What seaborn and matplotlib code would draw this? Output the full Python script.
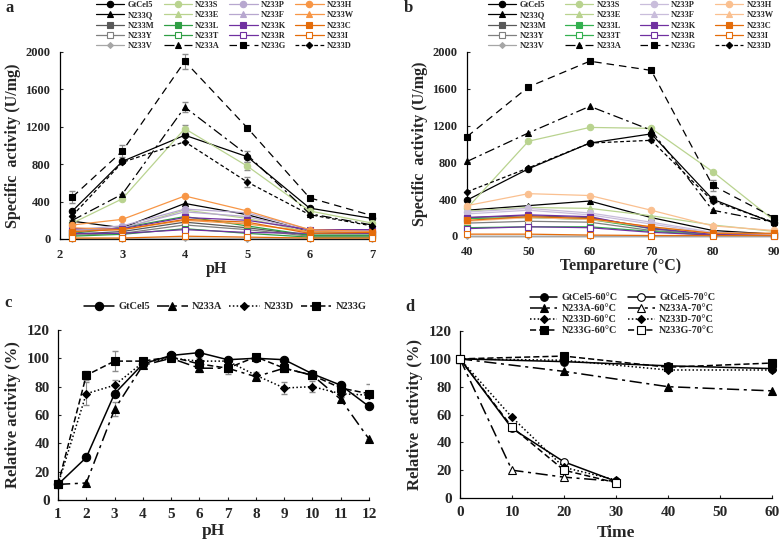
import matplotlib
matplotlib.use("Agg")
import matplotlib.pyplot as plt
import pandas as pd
import seaborn as sns

sns.set_style("ticks")
plt.rcParams["font.family"] = ["Liberation Serif", "DejaVu Serif"]
plt.rcParams["font.weight"] = "bold"
plt.rcParams["axes.labelweight"] = "bold"

# ---- data ----
mutants = ["GtCel5", "N233Q", "N233M", "N233Y", "N233V",
           "N233S", "N233E", "N233L", "N233T", "N233A",
           "N233P", "N233F", "N233K", "N233R", "N233G",
           "N233H", "N233W", "N233C", "N233I", "N233D"]

ph_a = [2.2, 3, 4, 5, 6, 7]
act_ph = {
    "GtCel5": [300, 830, 1110, 880, 330, 220],
    "N233Q": [190, 120, 380, 260, 80, 60],
    "N233M": [50, 80, 180, 120, 40, 40],
    "N233Y": [40, 60, 150, 100, 30, 30],
    "N233V": [5, 5, 10, 5, 5, 5],
    "N233S": [170, 430, 1180, 780, 300, 170],
    "N233E": [90, 110, 310, 220, 70, 60],
    "N233L": [60, 120, 240, 140, 40, 40],
    "N233T": [30, 50, 110, 60, 20, 20],
    "N233A": [200, 480, 1410, 900, 270, 150],
    "N233P": [100, 140, 320, 280, 100, 90],
    "N233F": [80, 120, 290, 240, 90, 80],
    "N233K": [110, 110, 230, 200, 100, 100],
    "N233R": [60, 60, 100, 70, 60, 60],
    "N233G": [450, 940, 1900, 1190, 440, 250],
    "N233H": [150, 210, 460, 300, 100, 80],
    "N233W": [120, 100, 200, 160, 80, 70],
    "N233C": [80, 100, 210, 180, 60, 70],
    "N233I": [10, 10, 30, 20, 10, 10],
    "N233D": [250, 820, 1040, 610, 260, 140],
}
err_ph = {
    "N233G": [60, 60, 80, 0, 0, 0],
    "N233A": [0, 0, 50, 0, 0, 0],
    "N233S": [0, 0, 40, 40, 0, 0],
    "GtCel5": [0, 0, 0, 60, 0, 0],
    "N233D": [0, 0, 0, 50, 0, 0],
}

temp_b = [40, 50, 60, 70, 80, 90]
act_temp = {
    "GtCel5": [390, 730, 1010, 1110, 400, 140],
    "N233Q": [280, 330, 380, 200, 60, 20],
    "N233M": [200, 220, 200, 90, 20, 10],
    "N233Y": [140, 160, 150, 60, 20, 10],
    "N233V": [5, 5, 5, 5, 5, 5],
    "N233S": [300, 1030, 1180, 1170, 700, 170],
    "N233E": [270, 310, 300, 220, 120, 50],
    "N233L": [190, 200, 180, 80, 20, 10],
    "N233T": [90, 100, 100, 50, 10, 10],
    "N233A": [810, 1120, 1410, 1150, 280, 150],
    "N233P": [260, 300, 250, 150, 40, 20],
    "N233F": [240, 280, 230, 130, 30, 10],
    "N233K": [200, 230, 210, 80, 20, 10],
    "N233R": [80, 100, 90, 40, 10, 5],
    "N233G": [1080, 1620, 1900, 1800, 550, 200],
    "N233H": [330, 460, 440, 280, 110, 60],
    "N233W": [160, 200, 180, 100, 30, 20],
    "N233C": [170, 210, 190, 100, 30, 30],
    "N233I": [20, 20, 10, 5, 5, 5],
    "N233D": [480, 740, 1010, 1040, 380, 150],
}
err_temp = {
    "N233G": [0, 0, 0, 0, 60, 0],
    "GtCel5": [0, 0, 0, 0, 40, 0],
}

variants = ["GtCel5", "N233A", "N233D", "N233G"]
ph_c = [1, 2, 3, 4, 5, 6, 7, 8, 9, 10, 11, 12]
rel_ph = {
    "GtCel5": [11, 30, 75, 96, 102, 104, 99, 100, 99, 89, 81, 66],
    "N233A": [11, 12, 64, 95, 100, 93, 93, 87, 93, 88, 71, 43],
    "N233D": [11, 75, 81, 97, 100, 98, 98, 88, 79, 80, 75, 74],
    "N233G": [11, 88, 98, 98, 101, 96, 93, 101, 93, 88, 79, 75],
}
err_rel = {
    "N233G": [0, 3, 7, 2, 3, 2, 4, 2, 2, 2, 2, 7],
    "N233D": [0, 8, 4, 2, 2, 2, 2, 2, 4, 4, 2, 2],
    "N233A": [0, 0, 5, 2, 2, 3, 2, 2, 2, 2, 2, 0],
}

t60 = [0, 20, 40, 60]
t70 = [0, 10, 20, 30]
res60 = {
    "GtCel5": [100, 98, 95, 93],
    "N233A": [100, 91, 80, 77],
    "N233D": [100, 99, 92, 92],
    "N233G": [100, 102, 94, 97],
}
res70 = {
    "GtCel5": [100, 50, 26, 12],
    "N233A": [100, 20, 15, 12],
    "N233D": [100, 58, 22, 13],
    "N233G": [100, 51, 20, 11],
}

# ---- styles ----
DASHDOT = (0, (8, 3, 2, 3))
DASH = (0, (6, 4))
SHORTDASH = (0, (3, 2))
DOT = (0, (1, 1.5))

style_ab = {  # colour, marker, filled, linestyle
    "GtCel5": ("#000000", "o", True, "-"),
    "N233Q": ("#000000", "^", True, "-"),
    "N233M": ("#595959", "s", True, "-"),
    "N233Y": ("#7f7f7f", "s", False, "-"),
    "N233V": ("#a6a6a6", "D", True, "-"),
    "N233S": ("#b9d38f", "o", True, "-"),
    "N233E": ("#b9d38f", "^", True, "-"),
    "N233L": ("#2f9e44", "s", True, "-"),
    "N233T": ("#2f9e44", "s", False, "-"),
    "N233A": ("#000000", "^", True, DASHDOT),
    "N233P": ("#b7a7cf", "o", True, "-"),
    "N233F": ("#b7a7cf", "^", True, "-"),
    "N233K": ("#7030a0", "s", True, "-"),
    "N233R": ("#7030a0", "s", False, "-"),
    "N233G": ("#000000", "s", True, DASH),
    "N233H": ("#f79646", "o", True, "-"),
    "N233W": ("#f79646", "^", True, "-"),
    "N233C": ("#e46c0a", "s", True, "-"),
    "N233I": ("#e46c0a", "s", False, "-"),
    "N233D": ("#000000", "D", True, SHORTDASH),
}
lighter_b = {"N233H": "#fac090", "N233W": "#fac090", "N233P": "#c9bddb",
             "N233F": "#c9bddb", "N233L": "#33b04f", "N233T": "#33b04f"}

style_cd = {
    "GtCel5": ("o", "-"),
    "N233A": ("^", DASHDOT),
    "N233D": ("D", DOT),
    "N233G": ("s", (0, (4, 2))),
}


def draw(ax, df, xcol, name, color, marker, filled, ls, ms, lw, label):
    sns.lineplot(data=df[df["series"] == name], x=xcol, y="value", ax=ax,
                 color=color, linestyle=ls, linewidth=lw, marker=marker,
                 markersize=ms, markeredgecolor=color, markeredgewidth=0.8,
                 markerfacecolor=color if filled else "white",
                 errorbar=None, legend=False, label=label, clip_on=False,
                 zorder=3)


def long_df(xs, table, xcol):
    rows = [(x, k, v) for k, vals in table.items() for x, v in zip(xs, vals)]
    return pd.DataFrame(rows, columns=[xcol, "series", "value"])


def marker_size(marker, base):
    return base * 0.72 if marker == "D" else base


fig = plt.figure(figsize=(7.84, 5.45), dpi=100)
ax_a = fig.add_axes([0.0765, 0.5615, 0.398, 0.3431])
ax_b = fig.add_axes([0.5957, 0.567, 0.3915, 0.3376])
ax_c = fig.add_axes([0.074, 0.0826, 0.3967, 0.312])
ax_d = fig.add_axes([0.5867, 0.0862, 0.398, 0.3064])

# ---- panel a ----
df_a = long_df(ph_a, act_ph, "pH")
for name, errs in err_ph.items():
    ax_a.errorbar(ph_a, act_ph[name], yerr=errs, fmt="none", ecolor="#8c8c8c",
                  elinewidth=0.8, capsize=2, zorder=2)
for name in mutants:
    c, m, f, ls = style_ab[name]
    ms = 3 if name == "N233V" else marker_size(m, 4.6)
    draw(ax_a, df_a, "pH", name, c, m, f, ls, ms, 0.9, name)

# ---- panel b ----
df_b = long_df(temp_b, act_temp, "temp")
for name, errs in err_temp.items():
    ax_b.errorbar(temp_b, act_temp[name], yerr=errs, fmt="none", ecolor="#8c8c8c",
                  elinewidth=0.8, capsize=2, zorder=2)
for name in mutants:
    c, m, f, ls = style_ab[name]
    c = lighter_b.get(name, c)
    ms = 3 if name == "N233V" else marker_size(m, 4.6)
    draw(ax_b, df_b, "temp", name, c, m, f, ls, ms, 0.9, name)

for ax, xs, xl in [(ax_a, (2, 7), "pH"), (ax_b, (40, 90), "Tempareture (°C)")]:
    ax.set_xlim(*xs)
    ax.set_ylim(0, 2000)
    ax.set_yticks([0, 400, 800, 1200, 1600, 2000])
    ax.set_xlabel(xl, fontsize=11.5, labelpad=0)
    ax.set_ylabel("Specific  activity (U/mg)", fontsize=11.5, labelpad=3)
    ax.tick_params(direction="in", length=2.5, width=0.8, labelsize=9, pad=7)
    sns.despine(ax=ax)

ax_a.legend(loc="upper left", bbox_to_anchor=(96 / 784, 1 - 1 / 545), bbox_transform=fig.transFigure,
            ncol=4, frameon=False, fontsize=6, handlelength=3.4, handletextpad=0.4,
            columnspacing=1.1, labelspacing=0.28, borderpad=0, borderaxespad=0)
ax_b.legend(loc="upper left", bbox_to_anchor=(488 / 784, 1 - 1 / 545), bbox_transform=fig.transFigure,
            ncol=4, frameon=False, fontsize=6, handlelength=3.4, handletextpad=0.4,
            columnspacing=2.2, labelspacing=0.28, borderpad=0, borderaxespad=0)

# ---- panel c ----
df_c = long_df(ph_c, rel_ph, "pH")
for name, errs in err_rel.items():
    ax_c.errorbar(ph_c, rel_ph[name], yerr=errs, fmt="none", ecolor="#8c8c8c",
                  elinewidth=0.8, capsize=2, zorder=2)
for name in variants:
    m, ls = style_cd[name]
    draw(ax_c, df_c, "pH", name, "#000000", m, True, ls, marker_size(m, 6), 1.1, name)
ax_c.set_xlim(1, 12)
ax_c.set_xticks(ph_c)
ax_c.set_xlabel("pH", fontsize=12.5, labelpad=1)
ax_c.set_ylabel("Relative activity (%)", fontsize=12, labelpad=4)
ax_c.legend(loc="upper left", bbox_to_anchor=(84 / 784, 1 - 302 / 545), bbox_transform=fig.transFigure,
            ncol=4, frameon=False, fontsize=7.5, handlelength=2.9, handletextpad=0.4,
            columnspacing=0.7, borderpad=0, borderaxespad=0)

# ---- panel d ----
df_d60 = long_df(t60, res60, "time")
df_d70 = long_df(t70, res70, "time")
for name in variants:
    m, ls = style_cd[name]
    draw(ax_d, df_d60, "time", name, "#000000", m, True, ls, marker_size(m, 5.5), 1.1, name + "-60°C")
for name in variants:
    m, ls = style_cd[name]
    draw(ax_d, df_d70, "time", name, "#000000", m, m == "D", ls, marker_size(m, 5.5), 1.1, name + "-70°C")
ax_d.set_xlim(0, 60)
ax_d.set_xticks([0, 10, 20, 30, 40, 50, 60])
ax_d.set_xlabel("Time", fontsize=12.5, labelpad=4)
ax_d.set_ylabel("Relative  activity (%)", fontsize=12, labelpad=4)
ax_d.legend(loc="upper left", bbox_to_anchor=(530 / 784, 1 - 293 / 545), bbox_transform=fig.transFigure,
            ncol=2, frameon=False, fontsize=7.3, handlelength=2.7, handletextpad=0.4,
            columnspacing=1.0, labelspacing=0.2, borderpad=0, borderaxespad=0)

for ax in (ax_c, ax_d):
    ax.set_ylim(0, 120)
    ax.set_yticks([0, 20, 40, 60, 80, 100, 120])
    ax.tick_params(direction="in", length=2.5, width=0.8, labelsize=11, pad=6)
    sns.despine(ax=ax)

for ax in (ax_a, ax_b, ax_c, ax_d):
    for s in ("left", "bottom"):
        ax.spines[s].set_linewidth(0.9)
        ax.spines[s].set_color("#000000")

fig.text(5 / 784, 1 - 8 / 545, "a", fontsize=12, fontweight="bold", va="center", ha="left")
fig.text(404 / 784, 1 - 8 / 545, "b", fontsize=12, fontweight="bold", va="center", ha="left")
fig.text(4 / 784, 1 - 303 / 545, "c", fontsize=12, fontweight="bold", va="center", ha="left")
fig.text(405 / 784, 1 - 307 / 545, "d", fontsize=12, fontweight="bold", va="center", ha="left")

fig.savefig("out.png", dpi=100)
